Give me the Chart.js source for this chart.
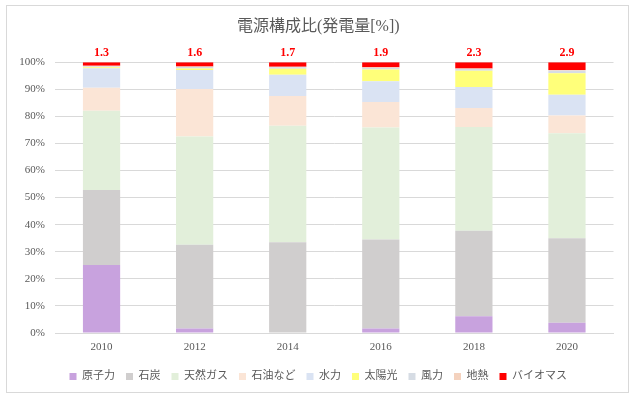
<head>
    <meta charset="UTF-8">
    <title>電源構成比</title>
    <script src="https://cdn.jsdelivr.net/npm/chart.js"></script>
    <style>
        html, body { margin: 0; padding: 0; background: #fff; }
        #wrap { width: 640px; height: 398px; }
    </style>
</head>
<div id="wrap">
    <canvas id="mixChart" width="640" height="398"></canvas>
</div>

<script>
    const years = ["2010", "2012", "2014", "2016", "2018", "2020"];
    const nuclear    = [25.1, 1.7, 0.0, 1.7, 6.2, 3.8];
    const coal       = [27.7, 30.9, 33.5, 32.8, 31.6, 31.2];
    const gas        = [29.3, 40.0, 43.0, 41.4, 38.3, 38.8];
    const oil        = [8.5, 17.5, 11.0, 9.4, 7.0, 6.5];
    const hydro      = [7.2, 7.0, 7.9, 7.7, 7.7, 7.7];
    const solar      = [0.3, 0.6, 2.2, 4.3, 6.0, 7.9];
    const wind       = [0.3, 0.5, 0.5, 0.6, 0.7, 0.9];
    const geothermal = [0.3, 0.2, 0.2, 0.2, 0.2, 0.3];
    const biomass    = [1.3, 1.6, 1.7, 1.9, 2.3, 2.9];
    const yTicks = [0, 10, 20, 30, 40, 50, 60, 70, 80, 90, 100];

    const serif = "'Liberation Serif', 'Noto Sans CJK JP', serif";

    // frame round the whole chart
    const framePlugin = {
        id: "frame",
        beforeDraw(chart) {
            const ctx = chart.ctx;
            ctx.save();
            ctx.fillStyle = "#fff";
            ctx.fillRect(0, 0, chart.width, chart.height);
            ctx.strokeStyle = "#D9D9D9";
            ctx.lineWidth = 1;
            ctx.strokeRect(6.5, 5.5, 622, 387);
            ctx.restore();
        }
    };

    // title and legend sit centred on the frame, not on the padded box
    const centerShift = {
        id: "centerShift",
        afterLayout(chart) {
            [chart.titleBlock, chart.legend].forEach(b => {
                if (b) { b.left += 8; b.right += 8; }
            });
        }
    };

    // biomass values written above each bar
    const topLabels = {
        id: "topLabels",
        afterDatasetsDraw(chart) {
            const ctx = chart.ctx;
            const idx = chart.data.datasets.length - 1;
            const meta = chart.getDatasetMeta(idx);
            ctx.save();
            ctx.font = "bold 12px " + serif;
            ctx.fillStyle = "#FF0000";
            ctx.textAlign = "center";
            ctx.textBaseline = "middle";
            meta.data.forEach((bar, i) => {
                ctx.fillText(biomass[i].toFixed(1), bar.x, bar.y - 9);
            });
            ctx.restore();
        }
    };

    const series = [
        { label: "原子力", data: nuclear, color: "#C8A2DE" },
        { label: "石炭", data: coal, color: "#D0CECE" },
        { label: "天然ガス", data: gas, color: "#E2EFDA" },
        { label: "石油など", data: oil, color: "#FBE5D6" },
        { label: "水力", data: hydro, color: "#DAE3F3" },
        { label: "太陽光", data: solar, color: "#FFFF7A" },
        { label: "風力", data: wind, color: "#D6DCE4" },
        { label: "地熱", data: geothermal, color: "#F4D2BE" },
        { label: "バイオマス", data: biomass, color: "#FF0000" }
    ];

    new Chart(document.getElementById("mixChart"), {
        type: "bar",
        data: {
            labels: years,
            datasets: series.map(s => ({
                label: s.label,
                data: s.data,
                backgroundColor: s.color,
                borderWidth: 0,
                barPercentage: 0.4,
                categoryPercentage: 1.0
            }))
        },
        options: {
            responsive: false,
            animation: false,
            layout: { padding: { left: 7, right: 26.5, top: 0, bottom: 6 } },
            plugins: {
                title: {
                    display: true,
                    text: "電源構成比(発電量[%])",
                    color: "#595959",
                    font: { family: serif, size: 16, weight: "normal" },
                    padding: { top: 17, bottom: 26 }
                },
                legend: {
                    position: "bottom",
                    labels: {
                        boxWidth: 7,
                        boxHeight: 7,
                        padding: 11,
                        color: "#595959",
                        font: { family: serif, size: 11 }
                    }
                },
                tooltip: { enabled: false }
            },
            scales: {
                x: {
                    stacked: true,
                    grid: { display: false, drawTicks: false },
                    border: { color: "#D9D9D9" },
                    ticks: { color: "#595959", font: { family: serif, size: 11 }, padding: 8 },
                    afterFit(scale) { scale.height = 27; }
                },
                y: {
                    stacked: true,
                    min: 0,
                    max: 100,
                    afterBuildTicks(scale) { scale.ticks = yTicks.map(v => ({ value: v })); },
                    grid: { color: "#D9D9D9", drawTicks: false },
                    border: { display: false },
                    ticks: {
                        color: "#595959",
                        font: { family: serif, size: 11 },
                        padding: 10,
                        callback: v => v + "%"
                    },
                    afterFit(scale) { scale.width = 48; }
                }
            }
        },
        plugins: [framePlugin, centerShift, topLabels]
    });
</script>
